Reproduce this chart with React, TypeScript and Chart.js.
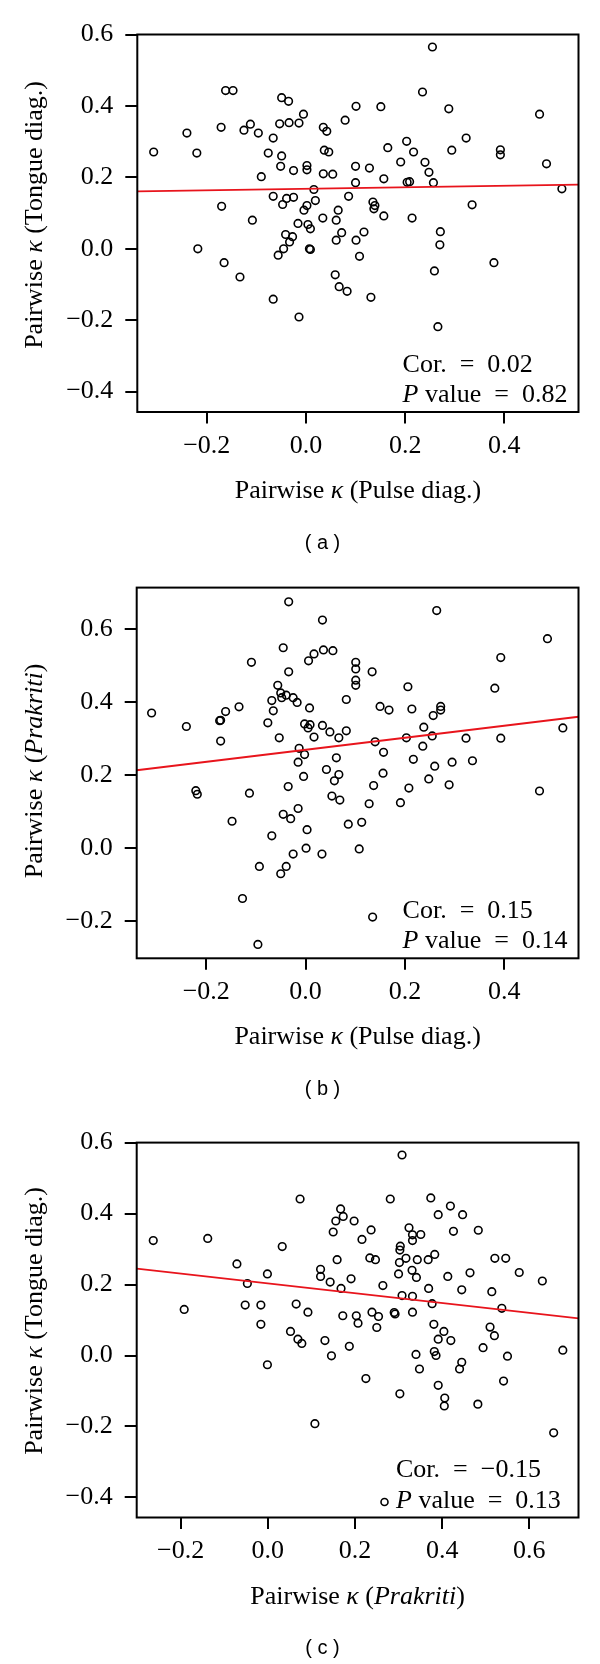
import React, { useEffect, useRef } from "react";
import { Chart, registerables } from "chart.js";

Chart.register(...registerables);

// ---------- Panel (a): Pulse diag. (x) vs Tongue diag. (y) ----------
const pulseA = [
  -0.307, -0.240, -0.220, -0.218, -0.165, -0.162, -0.147, -0.171, -0.170, -0.133,
  -0.125, -0.112, -0.096, -0.108, -0.090, -0.076, -0.066, -0.049, -0.035, -0.053,
  -0.034, -0.014, -0.005, -0.049, -0.051, -0.025, 0.002, 0.002, -0.066, -0.047,
  -0.039, -0.025, 0.016, 0.019, 0.002, -0.004, -0.016, 0.004, 0.009, -0.041,
  -0.027, -0.033, -0.045, -0.056, 0.007, 0.009, 0.035, 0.042, 0.037, 0.046,
  0.035, 0.054, 0.079, 0.101, 0.034, 0.065, 0.061, 0.072, 0.061, 0.086,
  0.100, 0.100, 0.128, 0.151, 0.117, 0.101, 0.108, 0.135, 0.139, 0.137,
  0.157, 0.157, 0.165, 0.059, 0.067, 0.083, 0.131, -0.066, -0.014, 0.266,
  0.191, 0.203, 0.217, 0.240, 0.248, 0.257, 0.204, 0.209, 0.255, 0.235,
  0.288, 0.294, 0.323, 0.214, 0.271, 0.270, 0.259, 0.335, 0.379, 0.392,
  0.392, 0.471, 0.485, 0.516,
];
const tongueA = [
  0.271, 0.324, 0.268, 0.000, -0.039, 0.443, 0.443, 0.340, 0.119, -0.079,
  0.332, 0.349, 0.324, 0.080, 0.202, 0.268, 0.310, 0.423, 0.413, 0.350,
  0.353, 0.352, 0.377, 0.260, 0.231, 0.219, 0.233, 0.221, 0.147, 0.124,
  0.141, 0.144, 0.166, 0.135, 0.121, 0.108, 0.071, 0.068, 0.056, 0.040,
  0.034, 0.019, 0.000, -0.018, 0.000, -0.002, 0.340, 0.329, 0.276, 0.271,
  0.210, 0.209, 0.360, 0.399, 0.086, 0.108, 0.080, 0.045, 0.024, 0.147,
  0.231, 0.185, 0.226, 0.398, 0.047, 0.024, -0.021, 0.131, 0.121, 0.112,
  0.092, 0.196, 0.283, -0.073, -0.106, -0.119, -0.136, -0.141, -0.191, -0.218,
  0.243, 0.301, 0.271, 0.242, 0.214, 0.185, 0.186, 0.188, 0.565, 0.439,
  0.392, 0.276, 0.310, 0.086, 0.048, 0.011, -0.062, 0.123, -0.039, 0.277,
  0.263, 0.377, 0.238, 0.168,
];

// ---------- Panel (b): Pulse diag. (x) vs Prakriti (y) ----------
const pulseB = [
  -0.310, -0.240, -0.221, -0.218, -0.173, -0.171, -0.161, -0.171, -0.148, -0.134,
  -0.113, -0.109, -0.076, -0.068, -0.065, -0.056, -0.050, -0.048, -0.039, -0.025,
  -0.017, -0.045, -0.034, -0.034, -0.053, -0.013, -0.002, -0.015, -0.004, -0.035,
  -0.015, -0.045, -0.030, -0.068, 0.003, 0.006, 0.017, 0.034, 0.036, 0.055,
  0.008, -0.002, 0.009, 0.005, 0.017, 0.034, 0.049, 0.067, 0.082, 0.082,
  0.062, 0.042, 0.067, 0.058, 0.053, 0.069, 0.101, 0.101, 0.101, 0.101,
  0.134, 0.150, 0.168, 0.140, 0.157, 0.156, 0.137, 0.128, 0.086, 0.113,
  0.206, 0.214, 0.203, 0.238, 0.257, 0.255, 0.236, 0.217, 0.260, 0.248,
  0.208, 0.191, 0.264, 0.272, 0.272, 0.295, 0.289, 0.323, 0.336, 0.381,
  0.393, 0.393, 0.471, 0.487, 0.518, 0.001, -0.025, 0.033, 0.108, -0.093,
  -0.050, -0.039, -0.127, 0.135, -0.096,
];
const prakritiB = [
  0.370, 0.333, 0.157, 0.147, 0.349, 0.350, 0.374, 0.293, 0.073, 0.387,
  0.150, 0.509, 0.343, 0.404, 0.376, 0.446, 0.425, 0.412, 0.419, 0.412,
  0.399, 0.549, 0.675, 0.483, 0.302, 0.273, 0.256, 0.235, 0.196, 0.168,
  0.108, 0.092, 0.080, 0.033, 0.050, 0.513, 0.532, 0.625, 0.543, 0.541,
  0.384, 0.340, 0.338, 0.329, 0.304, 0.336, 0.318, 0.302, 0.321, 0.407,
  0.247, 0.215, 0.201, 0.184, 0.142, 0.131, 0.509, 0.491, 0.460, 0.446,
  0.483, 0.388, 0.378, 0.291, 0.262, 0.205, 0.171, 0.121, 0.065, 0.070,
  0.442, 0.381, 0.302, 0.331, 0.363, 0.307, 0.279, 0.243, 0.224, 0.189,
  0.164, 0.124, 0.651, 0.388, 0.378, 0.235, 0.173, 0.301, 0.239, 0.438,
  0.522, 0.301, 0.156, 0.574, 0.329, -0.001, -0.017, -0.017, -0.003, -0.051,
  -0.071, -0.051, -0.139, -0.190, -0.265,
];

// ---------- Panel (c): Prakriti (x) vs Tongue diag. (y) ----------
const prakritiC = [
  -0.263, -0.192, -0.138, -0.071, -0.047, -0.052, -0.016, -0.016, -0.001, -0.001,
  0.033, 0.052, 0.069, 0.078, 0.065, 0.092, 0.074, 0.121, 0.121, 0.143,
  0.168, 0.131, 0.146, 0.172, 0.191, 0.187, 0.150, 0.156, 0.167, 0.173,
  0.198, 0.159, 0.216, 0.237, 0.234, 0.247, 0.264, 0.203, 0.207, 0.239,
  0.254, 0.250, 0.225, 0.281, 0.308, 0.304, 0.303, 0.302, 0.317, 0.300,
  0.308, 0.290, 0.292, 0.324, 0.332, 0.332, 0.351, 0.331, 0.341, 0.343,
  0.368, 0.383, 0.332, 0.332, 0.369, 0.377, 0.374, 0.391, 0.419, 0.447,
  0.426, 0.483, 0.413, 0.464, 0.445, 0.381, 0.404, 0.391, 0.420, 0.382,
  0.386, 0.340, 0.348, 0.445, 0.440, 0.391, 0.303, 0.406, 0.482, 0.521,
  0.546, 0.514, 0.537, 0.510, 0.520, 0.494, 0.550, 0.541, 0.577, 0.630,
  0.677, 0.405, 0.108, 0.656,
];
const tongueC = [
  0.324, 0.130, 0.330, 0.258, 0.203, 0.142, 0.142, 0.088, 0.230, -0.026,
  0.307, 0.068, 0.046, 0.034, 0.145, 0.122, 0.441, 0.243, 0.223, 0.207,
  0.189, 0.042, -0.001, 0.112, 0.216, 0.026, 0.348, 0.379, 0.413, 0.392,
  0.379, 0.270, 0.327, 0.354, 0.275, 0.270, 0.197, 0.112, 0.091, 0.122,
  0.110, 0.079, -0.065, 0.441, 0.565, 0.308, 0.297, 0.262, 0.274, 0.230,
  0.169, 0.121, 0.117, 0.360, 0.340, 0.324, 0.341, 0.240, 0.220, 0.270,
  0.270, 0.285, 0.167, 0.122, 0.189, 0.146, 0.444, 0.397, 0.421, 0.397,
  0.350, 0.353, 0.223, 0.233, 0.185, 0.088, 0.068, 0.046, 0.042, 0.011,
  0.000, 0.003, -0.038, -0.019, -0.038, -0.084, -0.108, -0.120, -0.137, 0.274,
  0.274, 0.180, 0.133, 0.080, 0.056, 0.022, -0.002, -0.072, 0.234, 0.210,
  0.015, -0.142, -0.192, -0.218,
];

// Fitted regression lines: [intercept, slope]
const fitA = [0.168, 0.0213];
const fitB = [0.269, 0.165];
const fitC = [0.2033, -0.138];

// Tick labels
const xTicksPulse = [-0.2, 0.0, 0.2, 0.4];
const xTicksPrakriti = [-0.2, 0.0, 0.2, 0.4, 0.6];
const yTicksA = [-0.4, -0.2, 0.0, 0.2, 0.4, 0.6];
const yTicksB = [-0.2, 0.0, 0.2, 0.4, 0.6];
const yTicksC = [-0.4, -0.2, 0.0, 0.2, 0.4, 0.6];

// Statistics
const corValues = ["0.02", "0.15", "\u22120.15"];
const pValues = ["0.82", "0.14", "0.13"];
const panelLabels = ["( a )", "( b )", "( c )"];

const SERIF = '"Liberation Serif", "Times New Roman", serif';
const SANS = '"Liberation Sans", Arial, sans-serif';
const FS = 26;

type Seg = { t: string; it?: boolean };

const titlePulse: Seg[] = [
  { t: "Pairwise " },
  { t: "\u03ba", it: true },
  { t: " (Pulse diag.)" },
];
const titleTongue: Seg[] = [
  { t: "Pairwise " },
  { t: "\u03ba", it: true },
  { t: " (Tongue diag.)" },
];
const titlePrakriti: Seg[] = [
  { t: "Pairwise " },
  { t: "\u03ba", it: true },
  { t: " (" },
  { t: "Prakriti", it: true },
  { t: ")" },
];

function fmt(v: number) {
  const s = Math.abs(v).toFixed(1);
  return v < -1e-9 ? "\u2212" + s : s;
}

function drawRich(
  ctx: CanvasRenderingContext2D,
  segs: Seg[],
  x: number,
  y: number,
  size: number,
  align: "left" | "center"
) {
  const widths = segs.map((s) => {
    ctx.font = `${s.it ? "italic " : ""}${size}px ${SERIF}`;
    return ctx.measureText(s.t).width;
  });
  const total = widths.reduce((a, b) => a + b, 0);
  let cx = align === "center" ? x - total / 2 : x;
  ctx.textAlign = "left";
  ctx.textBaseline = "alphabetic";
  segs.forEach((s, i) => {
    ctx.font = `${s.it ? "italic " : ""}${size}px ${SERIF}`;
    ctx.fillText(s.t, cx, y);
    cx += widths[i];
  });
}

type PanelCfg = {
  top: number;
  height: number;
  areaLeft: number;
  areaTop: number;
  areaBottom: number;
  xs: number[];
  ys: number[];
  fit: number[];
  xMin: number;
  xMax: number;
  yMin: number;
  yMax: number;
  xTicks: number[];
  yTicks: number[];
  xTitle: Seg[];
  yTitle: Seg[];
  yTitleCenter: number;
  cor: string;
  p: string;
  statX: number;
  label: string;
  glyph: boolean;
};

const AREA_RIGHT = 578.5;

const panels: PanelCfg[] = [
  {
    top: 0, height: 560, areaLeft: 137.3, areaTop: 34.5, areaBottom: 412,
    xs: pulseA, ys: tongueA, fit: fitA,
    xMin: -0.340, xMax: 0.5495, yMin: -0.457, yMax: 0.6,
    xTicks: xTicksPulse, yTicks: yTicksA,
    xTitle: titlePulse, yTitle: titleTongue, yTitleCenter: 215,
    cor: corValues[0], p: pValues[0], statX: 402.6, label: panelLabels[0], glyph: false,
  },
  {
    top: 560, height: 555, areaLeft: 136.7, areaTop: 19.3, areaBottom: 398.3,
    xs: pulseB, ys: prakritiB, fit: fitB,
    xMin: -0.340, xMax: 0.5495, yMin: -0.303, yMax: 0.714,
    xTicks: xTicksPulse, yTicks: yTicksB,
    xTitle: titlePulse, yTitle: titlePrakriti, yTitleCenter: 211,
    cor: corValues[1], p: pValues[1], statX: 402.6, label: panelLabels[1], glyph: false,
  },
  {
    top: 1115, height: 549, areaLeft: 136.7, areaTop: 24.3, areaBottom: 402.5,
    xs: prakritiC, ys: tongueC, fit: fitC,
    xMin: -0.301, xMax: 0.713, yMin: -0.4565, yMax: 0.6,
    xTicks: xTicksPrakriti, yTicks: yTicksC,
    xTitle: titlePrakriti, yTitle: titleTongue, yTitleCenter: 206,
    cor: corValues[2], p: pValues[2], statX: 396, label: panelLabels[2], glyph: true,
  },
];

function Panel({ cfg }: { cfg: PanelCfg }) {
  const ref = useRef<HTMLCanvasElement | null>(null);
  useEffect(() => {
    const canvas = ref.current;
    if (!canvas) return;
    const points = cfg.xs.map((x, i) => ({ x, y: cfg.ys[i] }));
    const line = [cfg.xMin, cfg.xMax].map((x) => ({ x, y: cfg.fit[0] + cfg.fit[1] * x }));

    const decor = {
      id: "decor",
      afterDraw(chart: any) {
        const ctx: CanvasRenderingContext2D = chart.ctx;
        const a = chart.chartArea;
        ctx.save();
        ctx.strokeStyle = "#000";
        ctx.lineWidth = 2;
        ctx.strokeRect(a.left, a.top, a.right - a.left, a.bottom - a.top);
        ctx.fillStyle = "#000";
        // x title
        drawRich(ctx, cfg.xTitle, (a.left + a.right) / 2, a.bottom + 86, FS, "center");
        // y title
        ctx.save();
        ctx.translate(42, cfg.yTitleCenter);
        ctx.rotate(-Math.PI / 2);
        drawRich(ctx, cfg.yTitle, 0, 0, FS, "center");
        ctx.restore();
        // stats
        drawRich(ctx, [{ t: "Cor.  =  " + cfg.cor }], cfg.statX, a.bottom - 40.5, FS, "left");
        drawRich(ctx, [{ t: "P", it: true }, { t: " value  =  " + cfg.p }], cfg.statX, a.bottom - 10, FS, "left");
        if (cfg.glyph) {
          ctx.beginPath();
          ctx.lineWidth = 1.6;
          ctx.arc(cfg.statX - 11.5, a.bottom - 15.5, 3.5, 0, Math.PI * 2);
          ctx.stroke();
        }
        // panel label
        ctx.font = `20px ${SANS}`;
        ctx.textAlign = "center";
        ctx.textBaseline = "middle";
        ctx.fillText(cfg.label, 322.5, a.bottom + 131);
        ctx.restore();
      },
    };

    const chart = new Chart(canvas, {
      type: "scatter",
      data: {
        datasets: [
          {
            type: "scatter",
            data: points,
            pointStyle: "circle",
            pointRadius: 3.8,
            pointBorderWidth: 1.6,
            borderColor: "#000",
            backgroundColor: "rgba(0,0,0,0)",
            pointBackgroundColor: "rgba(0,0,0,0)",
            pointBorderColor: "#000",
            order: 2,
          } as any,
          {
            type: "line",
            data: line,
            borderColor: "#e8141c",
            borderWidth: 1.8,
            pointRadius: 0,
            fill: false,
            order: 1,
          } as any,
        ],
      },
      options: {
        animation: false,
        responsive: false,
        devicePixelRatio: 1,
        events: [],
        layout: { padding: { top: cfg.areaTop, right: 600 - AREA_RIGHT, left: 0, bottom: 0 } },
        plugins: { legend: { display: false }, tooltip: { enabled: false }, title: { display: false } },
        scales: {
          x: {
            type: "linear",
            min: cfg.xMin,
            max: cfg.xMax,
            afterBuildTicks: (s: any) => {
              s.ticks = cfg.xTicks.map((v) => ({ value: v }));
            },
            afterFit: (s: any) => {
              s.height = cfg.height - cfg.areaBottom;
            },
            grid: { display: true, drawOnChartArea: false, drawTicks: true, tickLength: 11.5, color: "#000", lineWidth: 2 },
            border: { display: false },
            ticks: {
              color: "#000",
              font: { family: SERIF, size: FS },
              padding: 7,
              maxRotation: 0,
              autoSkip: false,
              callback: (v: any) => fmt(Number(v)),
            },
          },
          y: {
            type: "linear",
            min: cfg.yMin,
            max: cfg.yMax,
            afterBuildTicks: (s: any) => {
              s.ticks = cfg.yTicks.map((v) => ({ value: v }));
            },
            afterFit: (s: any) => {
              s.width = cfg.areaLeft;
            },
            grid: { display: true, drawOnChartArea: false, drawTicks: true, tickLength: 12, color: "#000", lineWidth: 2 },
            border: { display: false },
            ticks: {
              color: "#000",
              font: { family: SERIF, size: FS },
              padding: 12,
              autoSkip: false,
              callback: (v: any) => fmt(Number(v)),
            },
          },
        },
      } as any,
      plugins: [decor],
    });
    return () => chart.destroy();
  }, [cfg]);

  return (
    <canvas
      ref={ref}
      width={600}
      height={cfg.height}
      style={{ position: "absolute", left: 0, top: cfg.top, width: 600, height: cfg.height, display: "block" }}
    />
  );
}

export default function App() {
  return (
    <div style={{ position: "absolute", left: 0, top: 0, width: 600, height: 1664, background: "#fff" }}>
      {panels.map((p, i) => (
        <Panel key={i} cfg={p} />
      ))}
    </div>
  );
}
